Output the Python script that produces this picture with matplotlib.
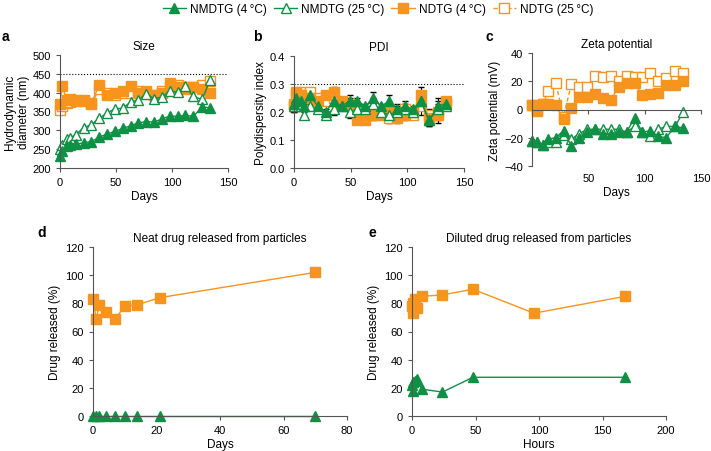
import numpy as np
import matplotlib
matplotlib.use('Agg')
import matplotlib.pyplot as plt
from matplotlib.lines import Line2D

plt.rcParams['font.family'] = ['Liberation Sans', 'DejaVu Sans']
plt.rcParams['font.size'] = 8
plt.rcParams['axes.linewidth'] = 0.8
plt.rcParams['axes.edgecolor'] = '#555555'
plt.rcParams['xtick.color'] = '#555555'
plt.rcParams['ytick.color'] = '#555555'
plt.rcParams['xtick.labelcolor'] = 'black'
plt.rcParams['ytick.labelcolor'] = 'black'
plt.rcParams['xtick.major.size'] = 3
plt.rcParams['ytick.major.size'] = 3

GREEN = '#0f9145'
ORANGE = '#f7941d'

# ---- a: size ----
days_a = [0, 2, 6, 9, 14, 21, 28, 35, 42, 49, 56, 63, 70, 77, 84, 91, 98, 105, 112, 119, 127, 134]
size_nmdtg4 = [232, 245, 258, 262, 263, 267, 270, 282, 290, 297, 305, 312, 320, 323, 322, 330, 338, 337, 340, 337, 362, 360]
size_nmdtg25 = [250, 262, 278, 280, 288, 307, 315, 332, 346, 357, 359, 375, 381, 397, 384, 388, 405, 401, 417, 390, 382, 434]
size_ndtg4 = [370, 418, 380, 383, 380, 380, 372, 420, 395, 400, 405, 418, 400, 405, 395, 400, 425, 415, 410, 415, 410, 400]
size_ndtg25 = [355, 365, 372, 375, 378, 378, 370, 410, 400, 395, 400, 400, 405, 400, 395, 405, 415, 420, 415, 415, 420, 430]

# ---- b: PDI ----
pdi_nmdtg4 = [0.23, 0.25, 0.24, 0.22, 0.26, 0.22, 0.20, 0.24, 0.22, 0.24, 0.24, 0.22, 0.25, 0.22, 0.24, 0.21, 0.22, 0.21, 0.24, 0.17, 0.22, 0.23]
pdi_nmdtg25 = [0.22, 0.23, 0.22, 0.19, 0.22, 0.21, 0.19, 0.21, 0.22, 0.20, 0.21, 0.21, 0.23, 0.20, 0.19, 0.20, 0.21, 0.20, 0.24, 0.17, 0.21, 0.22]
pdi_ndtg4 = [0.23, 0.27, 0.26, 0.25, 0.25, 0.24, 0.26, 0.27, 0.24, 0.23, 0.17, 0.17, 0.19, 0.19, 0.20, 0.18, 0.19, 0.20, 0.26, 0.18, 0.19, 0.24]
pdi_ndtg25 = [0.22, 0.26, 0.27, 0.26, 0.27, 0.25, 0.24, 0.25, 0.23, 0.22, 0.20, 0.19, 0.20, 0.20, 0.18, 0.19, 0.21, 0.19, 0.22, 0.19, 0.20, 0.23]
pdi_err4 = [0.02, 0.01, 0.01, 0.01, 0.01, 0.01, 0.01, 0.02, 0.01, 0.02, 0.01, 0.01, 0.02, 0.01, 0.02, 0.02, 0.02, 0.01, 0.03, 0.02, 0.03, 0.01]

# ---- c: zeta ----
days_c = [0, 4, 10, 14, 21, 28, 35, 42, 49, 56, 63, 70, 77, 84, 91, 98, 105, 112, 119, 127, 134]
zeta_nmdtg4 = [-22, -23, -25, -21, -20, -15, -26, -20, -16, -14, -17, -17, -16, -16, -6, -16, -15, -19, -20, -12, -13]
zeta_nmdtg25 = [-22, -23, -25, -23, -23, -18, -21, -17, -14, -14, -14, -14, -14, -16, -12, -16, -19, -14, -12, -12, -2]
zeta_ndtg4 = [3, -1, 4, 4, 3, -7, 1, 9, 9, 11, 8, 7, 16, 19, 19, 10, 11, 12, 17, 17, 20]
zeta_ndtg25 = [3, 0, 4, 13, 19, -5, 18, 16, 16, 24, 23, 24, 20, 24, 23, 23, 26, 20, 22, 27, 26]

# ---- d: neat release ----
days_d = [0, 1, 2, 4, 7, 10, 14, 21, 70]
neat_ndtg = [83, 69, 79, 74, 69, 78, 79, 84, 102]
neat_nmdtg = [0, 0, 0, 0, 0, 0, 0, 0, 0]

# ---- e: diluted release ----
hours_ndtg = [0.25, 0.5, 1, 2, 4, 8, 24, 48, 96, 168]
dil_ndtg = [78, 73, 80, 83, 77, 85, 86, 90, 73, 85]
hours_nmdtg = [0.25, 0.5, 1, 2, 4, 8, 24, 48, 168]
dil_nmdtg = [22, 18, 24, 25, 26, 19, 17, 27.5, 27.5]

W, H = 711, 452
fig = plt.figure(figsize=(W / 100, H / 100), dpi=100)


def px_axes(l, t, r, b):
    return fig.add_axes([l / W, (H - b) / H, (r - l) / W, (b - t) / H])


def style(ax):
    ax.spines['top'].set_visible(False)
    ax.spines['right'].set_visible(False)


tri_f = dict(color=GREEN, marker='^', ms=7, lw=1, clip_on=False)
tri_o = dict(color=GREEN, marker='^', ms=7, lw=1, mfc='white', mew=1, clip_on=False)
sq_f = dict(color=ORANGE, marker='s', ms=6.5, lw=1, clip_on=False)
sq_o = dict(color=ORANGE, marker='s', ms=6.5, lw=1, ls=(0, (3, 2)), mfc='white', mew=1, clip_on=False)

# a
ax = px_axes(60, 56, 228, 169)
style(ax)
ax.plot(days_a, size_ndtg25, **sq_o)
ax.plot(days_a, size_ndtg4, **sq_f)
ax.plot(days_a, size_nmdtg25, **tri_o)
ax.plot(days_a, size_nmdtg4, **tri_f)
ax.axhline(450, color='black', ls=':', lw=0.8)
ax.set_xlim(0, 150)
ax.set_ylim(200, 500)
ax.set_xticks([0, 50, 100, 150])
ax.set_yticks([200, 250, 300, 350, 400, 450, 500])
ax.set_xlabel('Days', fontsize=8.5, labelpad=2)
ax.set_ylabel('Hydrodynamic\ndiameter (nm)', fontsize=8.5, labelpad=2)
ax.set_title('Size', fontsize=8.5, pad=4)
fig.text(2 / W, 1 - 37 / H, 'a', fontsize=10, fontweight='bold', va='center')

# b
ax = px_axes(294, 57, 464, 169)
style(ax)
ax.errorbar(days_a, pdi_ndtg25, yerr=pdi_err4, ecolor='black', elinewidth=0.8, capsize=2.5, **sq_o)
ax.errorbar(days_a, pdi_ndtg4, yerr=pdi_err4, ecolor='black', elinewidth=0.8, capsize=2.5, **sq_f)
ax.errorbar(days_a, pdi_nmdtg25, yerr=pdi_err4, ecolor='black', elinewidth=0.8, capsize=2.5, **tri_o)
ax.errorbar(days_a, pdi_nmdtg4, yerr=pdi_err4, ecolor='black', elinewidth=0.8, capsize=2.5, **tri_f)
ax.axhline(0.3, color='black', ls=':', lw=0.8)
ax.set_xlim(0, 150)
ax.set_ylim(0, 0.4)
ax.set_xticks([0, 50, 100, 150])
ax.set_yticks([0.0, 0.1, 0.2, 0.3, 0.4])
ax.set_xlabel('Days', fontsize=8.5, labelpad=2)
ax.set_ylabel('Polydispersity index', fontsize=8.5, labelpad=2)
ax.set_title('PDI', fontsize=8.5, pad=4)
fig.text(253 / W, 1 - 37 / H, 'b', fontsize=10, fontweight='bold', va='center')

# c
ax = px_axes(532, 54, 701, 167)
style(ax)
ax.plot(days_c, zeta_ndtg25, **sq_o)
ax.plot(days_c, zeta_ndtg4, **sq_f)
ax.plot(days_c, zeta_nmdtg25, **tri_o)
ax.plot(days_c, zeta_nmdtg4, **tri_f)
ax.set_xlim(0, 150)
ax.set_ylim(-40, 40)
ax.set_yticks([-40, -20, 0, 20, 40])
ax.set_yticklabels(['\u221240', '\u221220', '0', '20', '40'])
ax.spines['bottom'].set_position(('data', 0))
ax.set_xticks([50, 100, 150])
ax.tick_params(axis='x', labelbottom=False)
sec = ax.secondary_xaxis('bottom')
sec.spines['bottom'].set_visible(False)
sec.set_xticks([50, 100, 150])
sec.tick_params(length=0, pad=5)
sec.set_xlabel('Days', fontsize=8.5, labelpad=2)
ax.set_ylabel('Zeta potential (mV)', fontsize=8.5, labelpad=2)
ax.set_title('Zeta potential', fontsize=8.5, pad=4)
fig.text(485 / W, 1 - 37 / H, 'c', fontsize=10, fontweight='bold', va='center')

# d
ax = px_axes(93, 248, 347, 417)
style(ax)
ax.plot(days_d, neat_ndtg, color=ORANGE, marker='s', ms=7, lw=1, clip_on=False)
ax.plot(days_d, neat_nmdtg, color=GREEN, marker='^', ms=7, lw=1, clip_on=False)
ax.set_xlim(0, 80)
ax.set_ylim(0, 120)
ax.set_xticks([0, 20, 40, 60, 80])
ax.set_yticks([0, 20, 40, 60, 80, 100, 120])
ax.set_xlabel('Days', fontsize=8.5, labelpad=2)
ax.set_ylabel('Drug released (%)', fontsize=8.5, labelpad=3)
ax.set_title('Neat drug released from particles', fontsize=8.5, pad=4)
fig.text(37 / W, 1 - 233 / H, 'd', fontsize=10, fontweight='bold', va='center')

# e
ax = px_axes(412, 248, 666, 417)
style(ax)
ax.plot(hours_ndtg, dil_ndtg, color=ORANGE, marker='s', ms=7, lw=1, clip_on=False)
ax.plot(hours_nmdtg, dil_nmdtg, color=GREEN, marker='^', ms=7, lw=1, clip_on=False)
ax.set_xlim(0, 200)
ax.set_ylim(0, 120)
ax.set_xticks([0, 50, 100, 150, 200])
ax.set_yticks([0, 20, 40, 60, 80, 100, 120])
ax.set_xlabel('Hours', fontsize=8.5, labelpad=2)
ax.set_ylabel('Drug released (%)', fontsize=8.5, labelpad=3)
ax.set_title('Diluted drug released from particles', fontsize=8.5, pad=4)
fig.text(368 / W, 1 - 233 / H, 'e', fontsize=10, fontweight='bold', va='center')

# legend
handles = [
    Line2D([], [], **{k: v for k, v in tri_f.items() if k != 'clip_on'}),
    Line2D([], [], **{k: v for k, v in tri_o.items() if k != 'clip_on'}),
    Line2D([], [], **{k: v for k, v in sq_f.items() if k != 'clip_on'}),
    Line2D([], [], **{k: v for k, v in sq_o.items() if k != 'clip_on'}),
]
labels = ['NMDTG (4\u2009\u00b0C)', 'NMDTG (25\u2009\u00b0C)', 'NDTG (4\u2009\u00b0C)', 'NDTG (25\u2009\u00b0C)']
fig.legend(handles, labels, loc='center', bbox_to_anchor=(378 / W, 1 - 10 / H), ncol=4,
           frameon=False, fontsize=8.5, handlelength=2, handletextpad=0.3, columnspacing=0.6)

fig.savefig('out.png', dpi=100)
